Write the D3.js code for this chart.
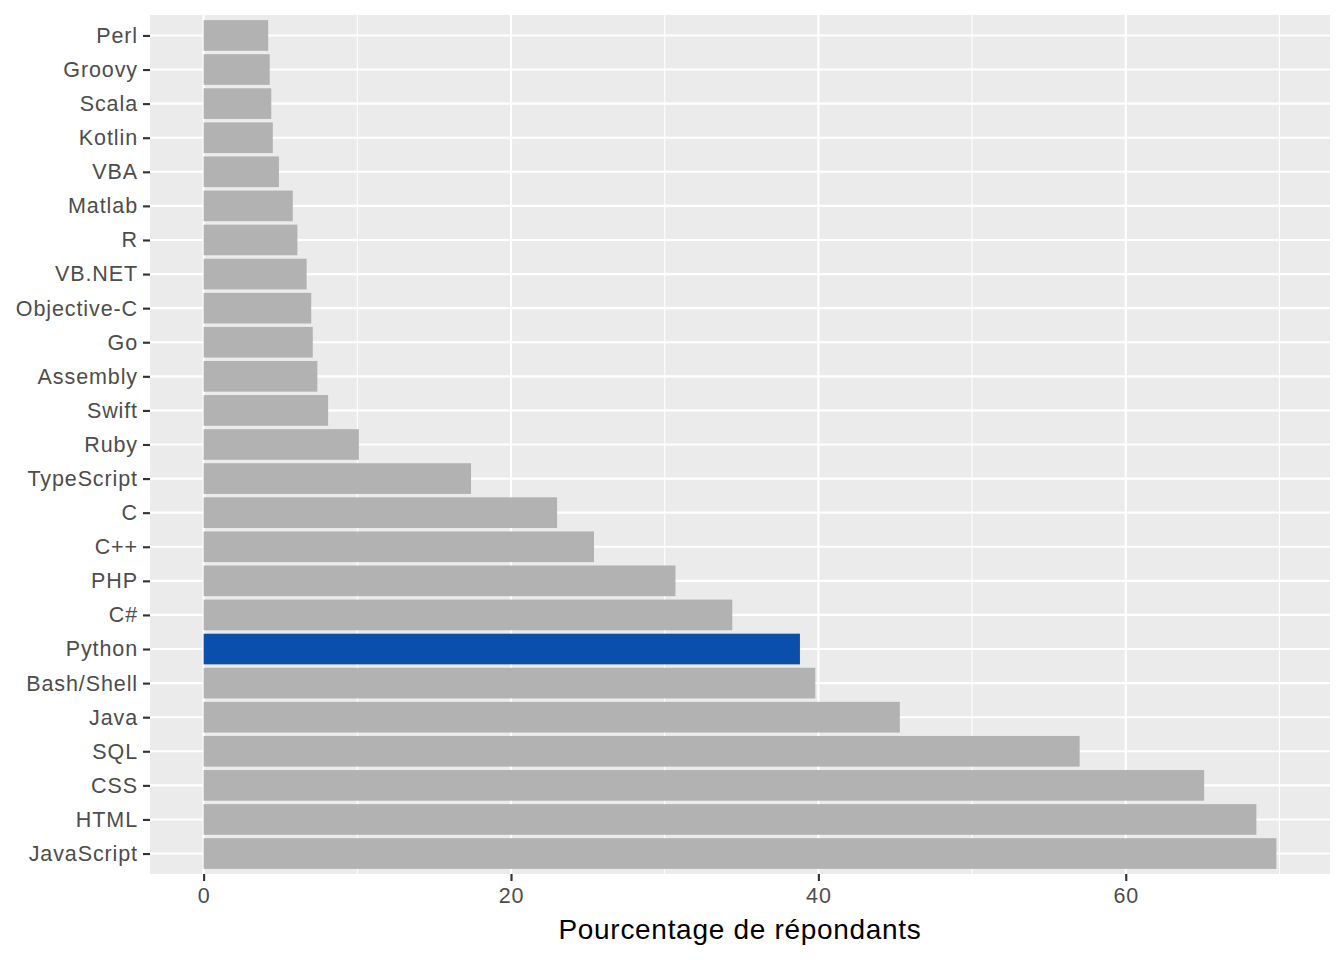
<!DOCTYPE html>
<html><head><meta charset="utf-8">
<script src="https://cdn.jsdelivr.net/npm/d3@7"></script>
<style>body{margin:0;background:#fff}svg{display:block}</style>
</head><body>
<script>
const languages = ["JavaScript","HTML","CSS","SQL","Java","Bash/Shell","Python","C#","PHP","C++","C","TypeScript","Ruby","Swift","Assembly","Go","Objective-C","VB.NET","R","Matlab","VBA","Kotlin","Scala","Groovy","Perl"];
const percents = [69.8,68.5,65.1,57.0,45.3,39.8,38.8,34.4,30.7,25.4,23.0,17.4,10.1,8.1,7.4,7.1,7.0,6.7,6.1,5.8,4.9,4.5,4.4,4.3,4.2];
const highlight = "Python";
const xTicks = [0,20,40,60];
const xMinor = [10,30,50,70];
const xTitle = "Pourcentage de répondants";

const W = 1344, H = 960;
const panel = {left:150, right:1330, top:15, bottom:874};
const svg = d3.select("body").append("svg").attr("width",W).attr("height",H);
const font = "Liberation Sans, Arial, Helvetica, sans-serif";

const maxV = d3.max(percents);
const pad = maxV*0.05;
const x = d3.scaleLinear().domain([-pad, maxV+pad]).range([panel.left, panel.right]);
const n = languages.length;
const step = (panel.bottom-panel.top)/(n-1+1.2);
const y = d3.scalePoint().domain(languages.slice().reverse()).range([panel.top+0.6*step, panel.bottom-0.6*step]);

svg.append("rect").attr("x",panel.left).attr("y",panel.top).attr("width",panel.right-panel.left).attr("height",panel.bottom-panel.top).attr("fill","#EBEBEB");

svg.append("g").selectAll("line").data(xMinor).join("line")
  .attr("x1",d=>x(d)).attr("x2",d=>x(d)).attr("y1",panel.top).attr("y2",panel.bottom)
  .attr("stroke","#fff").attr("stroke-width",1.07);
svg.append("g").selectAll("line").data(xTicks).join("line")
  .attr("x1",d=>x(d)).attr("x2",d=>x(d)).attr("y1",panel.top).attr("y2",panel.bottom)
  .attr("stroke","#fff").attr("stroke-width",2.13);
svg.append("g").selectAll("line").data(languages).join("line")
  .attr("y1",d=>y(d)).attr("y2",d=>y(d)).attr("x1",panel.left).attr("x2",panel.right)
  .attr("stroke","#fff").attr("stroke-width",2.13);

const bh = step*0.9;
svg.append("g").selectAll("rect").data(languages).join("rect")
  .attr("x",x(0)).attr("y",d=>y(d)-bh/2).attr("height",bh)
  .attr("width",(d,i)=>x(percents[i])-x(0))
  .attr("fill",d=>d===highlight?"#0B4FAD":"#B2B2B2");

// y axis
const ya = svg.append("g").attr("transform",`translate(${panel.left},0)`)
  .call(d3.axisLeft(y).tickSize(7).tickPadding(5));
ya.select(".domain").remove();
ya.selectAll("line").attr("stroke","#333").attr("stroke-width",2.13);
ya.selectAll("text").attr("font-family",font).attr("font-size","21.5px").attr("letter-spacing","0.9px").attr("fill","#4D4D4D");

// x axis
const xa = svg.append("g").attr("transform",`translate(0,${panel.bottom})`)
  .call(d3.axisBottom(x).tickValues(xTicks).tickSize(7).tickPadding(7).tickFormat(d3.format("d")));
xa.select(".domain").remove();
xa.selectAll("line").attr("stroke","#333").attr("stroke-width",2.13);
xa.selectAll("text").attr("font-family",font).attr("font-size","21.5px").attr("letter-spacing","0.9px").attr("fill","#4D4D4D");

svg.append("text").attr("x",(panel.left+panel.right)/2).attr("y",939)
  .attr("text-anchor","middle").attr("font-family",font).attr("font-size","28px").attr("letter-spacing","0.7px").attr("fill","#000")
  .text(xTitle);
</script>
</body></html>
